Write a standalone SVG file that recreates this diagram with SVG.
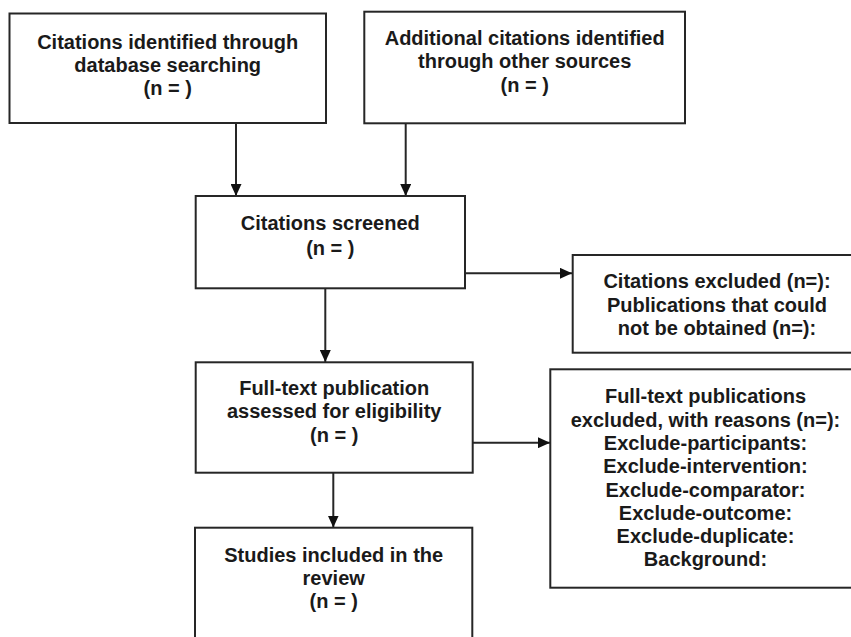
<svg xmlns="http://www.w3.org/2000/svg" width="851" height="637" viewBox="0 0 851 637">
<defs>
<style>
.box{fill:#fff;stroke:#262626;stroke-width:2}
.t{font-family:"Liberation Sans",Arial,sans-serif;font-weight:bold;font-size:20px;fill:#1a1a1a;text-anchor:middle}
.c{stroke:#262626;stroke-width:2;fill:none;marker-end:url(#ah)}
</style>
<marker id="ah" markerUnits="userSpaceOnUse" markerWidth="12" markerHeight="11" refX="12" refY="5.5" orient="auto">
<path d="M0,0 L12,5.5 L0,11 z" fill="#111"/>
</marker>
</defs>
<rect width="851" height="637" fill="#fff"/>
<g id="connectors">
<line class="c" x1="236" y1="123" x2="236" y2="196"/>
<line class="c" x1="405.7" y1="123" x2="405.7" y2="196"/>
<line class="c" x1="465" y1="273.3" x2="572" y2="273.3"/>
<line class="c" x1="325.3" y1="288.3" x2="325.3" y2="362"/>
<line class="c" x1="472.7" y1="442.7" x2="550" y2="442.7"/>
<line class="c" x1="333.3" y1="472.7" x2="333.3" y2="527.5"/>
</g>
<g id="n1">
<rect class="box" x="9.5" y="13.5" width="316.5" height="109.5"/>
<text class="t" x="167.7"><tspan x="167.7" y="48.5">Citations identified through</tspan><tspan x="167.7" y="71.8">database searching</tspan><tspan x="167.7" y="95.1">(n = )</tspan></text>
</g>
<g id="n2">
<rect class="box" x="364.3" y="11.7" width="320.7" height="111.6"/>
<text class="t"><tspan x="524.7" y="45">Additional citations identified</tspan><tspan x="524.7" y="68.3">through other sources</tspan><tspan x="524.7" y="91.6">(n = )</tspan></text>
</g>
<g id="n3">
<rect class="box" x="195.7" y="196" width="269.3" height="92.3"/>
<text class="t"><tspan x="330.3" y="230">Citations screened</tspan><tspan x="330.3" y="255.3">(n = )</tspan></text>
</g>
<g id="n4">
<rect class="box" x="572.7" y="255" width="290" height="97.7"/>
<text class="t"><tspan x="717" y="288.3">Citations excluded (n=):</tspan><tspan x="717" y="311.6">Publications that could</tspan><tspan x="717" y="334.9">not be obtained (n=):</tspan></text>
</g>
<g id="n5">
<rect class="box" x="195.7" y="362.3" width="277" height="110.4"/>
<text class="t"><tspan x="334.2" y="395">Full-text publication</tspan><tspan x="334.2" y="418.3">assessed for eligibility</tspan><tspan x="334.2" y="441.6">(n = )</tspan></text>
</g>
<g id="n6">
<rect class="box" x="550.3" y="369.3" width="312" height="218.4"/>
<text class="t"><tspan x="705.5" y="403.3">Full-text publications</tspan><tspan x="705.5" y="426.6">excluded, with reasons (n=):</tspan><tspan x="705.5" y="449.9">Exclude-participants:</tspan><tspan x="705.5" y="473.2">Exclude-intervention:</tspan><tspan x="705.5" y="496.5">Exclude-comparator:</tspan><tspan x="705.5" y="519.8">Exclude-outcome:</tspan><tspan x="705.5" y="543.1">Exclude-duplicate:</tspan><tspan x="705.5" y="566.4">Background:</tspan></text>
</g>
<g id="n7">
<rect class="box" x="195" y="527.7" width="277.3" height="130"/>
<text class="t"><tspan x="333.7" y="561.7">Studies included in the</tspan><tspan x="333.7" y="585">review</tspan><tspan x="333.7" y="608.3">(n = )</tspan></text>
</g>
</svg>
